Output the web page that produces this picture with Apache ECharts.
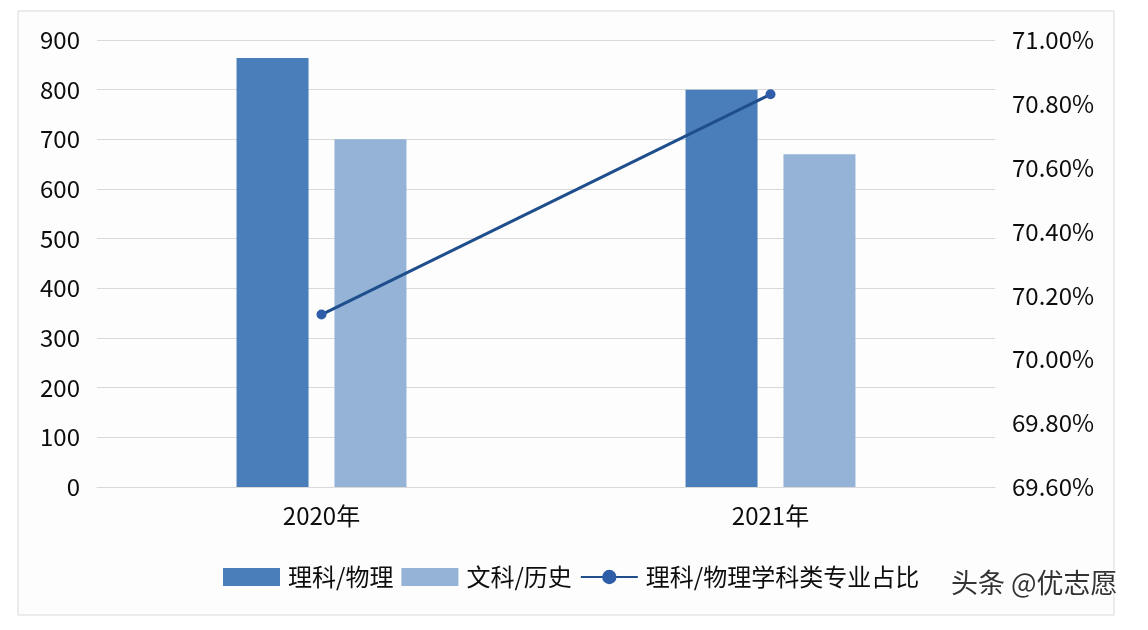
<!DOCTYPE html>
<html>
<head>
<meta charset="utf-8">
<script src="https://cdn.jsdelivr.net/npm/echarts@6/dist/echarts.min.js"></script>
<style>
html,body{margin:0;padding:0;background:#ffffff;}
#c{width:1148px;height:630px;}
</style>
</head>
<body>
<div id="c"></div>
<script>
var categories = ['2020年', '2021年'];
var scienceValues = [864, 800];
var artsValues = [700, 670];
var ratioValues = [70.14, 70.83];
var seriesNames = ['理科/物理', '文科/历史', '理科/物理学科类专业占比'];

var FONT = '"Noto Sans CJK SC", "Noto Sans", sans-serif';
var chart = echarts.init(document.getElementById('c'));
chart.setOption({
  backgroundColor: '#ffffff',
  animation: false,
  textStyle: { fontFamily: FONT },
  graphic: [
    { type: 'rect', shape: { x: 18, y: 11, width: 1096, height: 604 },
      style: { fill: '#fdfdfe', stroke: '#d9d9d9', lineWidth: 1 }, z: -10 },
    { type: 'text', left: 950, top: 568,
      style: { text: '头条 @优志愿', fontSize: 27, fontFamily: FONT, fill: '#333333',
               stroke: '#ffffff', lineWidth: 2 }, z: 100 }
  ],
  grid: { left: 97, right: 153, top: 40, bottom: 143, containLabel: false },
  legend: {
    bottom: 36, left: 218,
    itemWidth: 57, itemHeight: 18, itemGap: 8,
    textStyle: { fontSize: 24, color: '#0d0d0d', fontFamily: FONT, padding: [0, 0, 0, 3] },
    data: [
      { name: seriesNames[0], icon: 'rect' },
      { name: seriesNames[1], icon: 'rect' },
      { name: seriesNames[2] }
    ]
  },
  xAxis: {
    type: 'category', data: categories,
    axisLine: { lineStyle: { color: '#d9d9d9', width: 1 } },
    axisTick: { show: false },
    axisLabel: { fontSize: 24, color: '#0d0d0d', margin: 17, fontFamily: FONT }
  },
  yAxis: [
    { type: 'value', min: 0, max: 900, interval: 100,
      axisLine: { show: false }, axisTick: { show: false },
      splitLine: { lineStyle: { color: '#d9d9d9', width: 1 } },
      axisLabel: { fontSize: 24, color: '#0d0d0d', margin: 17, fontFamily: FONT } },
    { type: 'value', min: 69.6, max: 71.0, interval: 0.2, position: 'right',
      axisLine: { show: false }, axisTick: { show: false }, splitLine: { show: false },
      axisLabel: { fontSize: 24, color: '#0d0d0d', margin: 17, fontFamily: FONT,
        formatter: function (v) { return v.toFixed(2) + '%'; } } }
  ],
  series: [
    { name: seriesNames[0], type: 'bar', data: scienceValues, barWidth: 72, barGap: '36%',
      itemStyle: { color: '#4a7ebb' } },
    { name: seriesNames[1], type: 'bar', data: artsValues, barWidth: 72,
      itemStyle: { color: '#95b3d7' } },
    { name: seriesNames[2], type: 'line', yAxisIndex: 1, data: ratioValues,
      symbol: 'circle', symbolSize: 10,
      lineStyle: { color: '#1f4e8c', width: 3 },
      itemStyle: { color: '#2f5ea8' } }
  ]
});
</script>
</body>
</html>
